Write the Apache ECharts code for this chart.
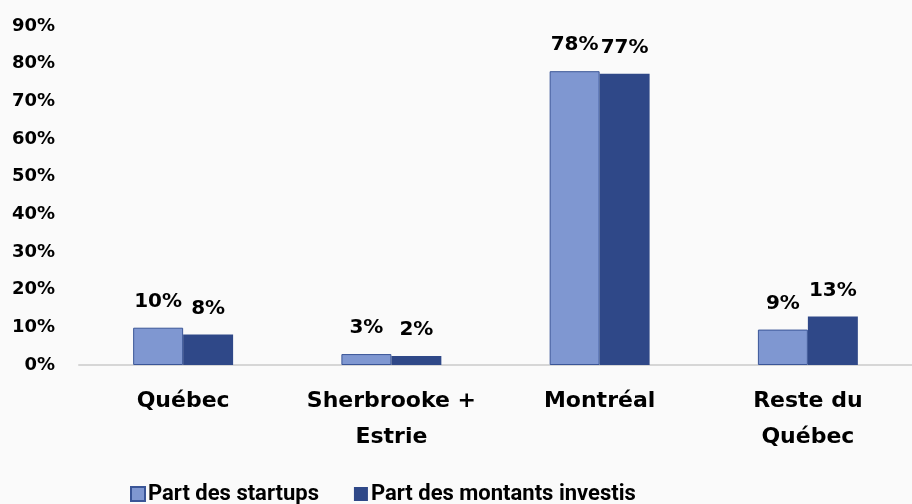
<!DOCTYPE html>
<html>
<head>
<meta charset="utf-8">
<script src="https://cdn.jsdelivr.net/npm/echarts@6/dist/echarts.min.js"></script>
<style>
  html, body { margin: 0; padding: 0; background: #fafafa; }
  #chart { width: 912px; height: 504px; }
</style>
</head>
<body>
<div id="chart"></div>
<script>
const categories = ['Québec', 'Sherbrooke +\nEstrie', 'Montréal', 'Reste du\nQuébec']
const startups = [9.9, 2.9, 78, 9.4]
const montants = [8.1, 2.4, 77.3, 12.9]
const seriesNames = ['Part des startups', 'Part des montants investis']

const font = '"DejaVu Sans", sans-serif'
const legendFont = '"Liberation Sans Narrow", Roboto, sans-serif'
const chart = echarts.init(document.getElementById('chart'))

const labelStyle = {
  show: true,
  position: 'top',
  distance: 16,
  fontFamily: font,
  fontWeight: 'bold',
  fontSize: 20,
  color: '#000',
  formatter: (p) => Math.round(p.value) + '%'
}

chart.setOption({
  backgroundColor: '#fafafa',
  animation: false,
  grid: { left: 79, top: 26, width: 844, height: 339 },
  legend: {
    top: 478,
    left: 125,
    icon: 'rect',
    itemWidth: 14,
    itemHeight: 14,
    itemGap: 35,
    textStyle: { fontFamily: legendFont, fontWeight: 'bold', fontSize: 22, color: '#000', padding: [0, 0, 0, -2] },
    data: seriesNames
  },
  xAxis: {
    type: 'category',
    data: categories,
    axisTick: { show: false },
    axisLine: { lineStyle: { color: '#d6d6d6', width: 2 } },
    axisLabel: {
      margin: 18,
      fontFamily: font,
      fontWeight: 'bold',
      fontSize: 22,
      lineHeight: 36,
      color: '#000',
      interval: 0
    }
  },
  yAxis: {
    type: 'value',
    min: 0,
    max: 90,
    interval: 10,
    splitLine: { show: false },
    axisLine: { show: false },
    axisLabel: {
      margin: 24,
      fontFamily: font,
      fontWeight: 'bold',
      fontSize: 18,
      color: '#000',
      formatter: '{value}%'
    }
  },
  series: [
    {
      name: seriesNames[0],
      type: 'bar',
      data: startups,
      barGap: '0%',
      barCategoryGap: '52%',
      itemStyle: { color: '#7f97d1', borderColor: '#3a5597', borderWidth: 1 },
      label: labelStyle
    },
    {
      name: seriesNames[1],
      type: 'bar',
      data: montants,
      itemStyle: { color: '#2f4888' },
      label: labelStyle
    }
  ]
})
</script>
</body>
</html>
